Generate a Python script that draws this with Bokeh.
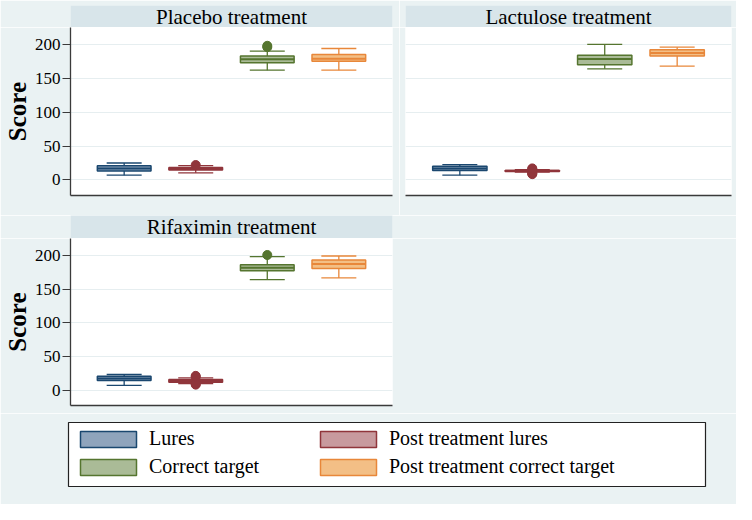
from bokeh.plotting import figure
from bokeh.models import (ColumnDataSource, Range1d, Legend, LegendItem,
                          Label, FixedTicker)
from bokeh.layouts import column, row
from bokeh.embed import file_html
from bokeh.resources import INLINE

# ---------------- data ----------------
groups = ["Lures", "Post treatment lures", "Correct target", "Post treatment correct target"]
panel_titles = ["Placebo treatment", "Lactulose treatment", "Rifaximin treatment"]
y_ticks = [0, 50, 100, 150, 200]

placebo_low = [7, 10.5, 162, 162]
placebo_q1 = [13, 14.5, 173, 175]
placebo_med = [17, 16, 178, 179]
placebo_q3 = [21, 18.5, 183, 185]
placebo_high = [25, 21, 190, 194]
placebo_out = [[], [22], [196, 198], []]

lactulose_low = [7, 11.5, 164, 168]
lactulose_q1 = [14, 12.5, 170, 183]
lactulose_med = [17, 13.4, 178.5, 187.5]
lactulose_q3 = [20, 14, 184, 192]
lactulose_high = [22.5, 15, 200, 196]
lactulose_out = [[], [8.5, 9.5, 10.5, 16, 17], [], []]

rifaximin_low = [7, 9.5, 164, 166.5]
rifaximin_q1 = [14, 11.5, 177, 180.5]
rifaximin_med = [17, 13.5, 181.5, 187]
rifaximin_q3 = [20.5, 15.5, 186, 193]
rifaximin_high = [23, 18, 198, 199]
rifaximin_out = [[], [8, 9, 19.5, 21], [200.5], []]

# ---------------- style ----------------
BG = "#eaf2f3"
STRIP = "#d8e5ea"
GRID = "#e6eef0"
AXIS = "#3a3a3a"
line_colors = ["#1a476f", "#90353b", "#55752f", "#e8873a"]
fill_colors = ["#8fa4bc", "#c89a9e", "#aabb97", "#f3bf86"]
FONT = "Liberation Serif"

LEFT = 67
FRAME_W = 325
positions = [i + 1 for i in range(len(groups))]


def make_strip(title, left, frame_w, right, top, frame_h):
    s = figure(width=left + frame_w + right, height=top + frame_h,
               x_range=Range1d(0, 1), y_range=Range1d(0, 1),
               output_backend="svg", toolbar_location=None,
               min_border_left=left, min_border_right=right, min_border_top=top,
               min_border_bottom=0)
    s.axis.visible = False
    s.grid.visible = False
    s.background_fill_color = STRIP
    s.border_fill_color = BG
    s.outline_line_color = None
    s.add_layout(Label(x=0.5, y=0.5, text=title, text_align="center",
                       text_baseline="middle", text_font=FONT,
                       text_font_size="21px", text_color="black"))
    return s


def make_panel(low, q1, med, q3, high, outs, show_y, left, frame_w, right,
               frame_h, bottom):
    p = figure(width=left + frame_w + right, height=frame_h + bottom,
               x_range=Range1d(0.25, len(groups) + 0.75),
               y_range=Range1d(-23, 225), output_backend="svg",
               toolbar_location=None,
               y_axis_location="left" if show_y else None,
               min_border_left=left, min_border_right=right, min_border_top=0,
               min_border_bottom=bottom)
    p.background_fill_color = "white"
    p.border_fill_color = BG
    p.outline_line_color = None
    p.xgrid.grid_line_color = None
    p.ygrid.grid_line_color = GRID
    p.ygrid.grid_line_width = 1.2
    p.ygrid.ticker = FixedTicker(ticks=y_ticks)

    xa = p.xaxis[0]
    xa.ticker = FixedTicker(ticks=[])
    xa.axis_line_color = AXIS
    xa.axis_line_width = 1.6
    xa.major_tick_line_color = None
    xa.minor_tick_line_color = None

    if show_y:
        ya = p.yaxis[0]
        ya.ticker = FixedTicker(ticks=y_ticks)
        ya.axis_line_color = AXIS
        ya.axis_line_width = 1.3
        ya.major_tick_line_color = AXIS
        ya.major_tick_out = 8
        ya.major_tick_in = 0
        ya.minor_tick_line_color = None
        ya.major_label_text_font = FONT
        ya.major_label_text_font_size = "17px"
        ya.major_label_text_color = "black"
        ya.major_label_standoff = 2
        ya.axis_label = "Score"
        ya.axis_label_text_font = FONT
        ya.axis_label_text_font_style = "bold"
        ya.axis_label_text_font_size = "25px"
        ya.axis_label_text_color = "black"
        ya.axis_label_standoff = 1

    src = ColumnDataSource(dict(x=positions, low=low, q1=q1, med=med, q3=q3,
                                high=high, line=line_colors, fill=fill_colors))
    p.segment(x0="x", y0="q3", x1="x", y1="high", line_color="line",
              line_width=1.3, source=src)
    p.segment(x0="x", y0="low", x1="x", y1="q1", line_color="line",
              line_width=1.3, source=src)
    p.scatter(x="x", y="high", marker="dash", size=35, line_color="line",
              line_width=1.3, source=src)
    p.scatter(x="x", y="low", marker="dash", size=35, line_color="line",
              line_width=1.3, source=src)
    p.vbar(x="x", width=0.75, bottom="q1", top="q3", fill_color="fill",
           line_color="line", line_width=1.5, source=src)
    p.scatter(x="x", y="med", marker="dash", size=54, line_color="line",
              line_width=2, source=src)

    ox, oy, oc = [], [], []
    for pos, vals, c in zip(positions, outs, line_colors):
        for v in vals:
            ox.append(pos)
            oy.append(v)
            oc.append(c)
    osrc = ColumnDataSource(dict(x=ox, y=oy, c=oc))
    p.scatter(x="x", y="y", size=9, fill_color="c", line_color="c", source=osrc)
    return p, src


strip1 = make_strip(panel_titles[0], LEFT, FRAME_W, 7, 5, 22)
p1, _ = make_panel(placebo_low, placebo_q1, placebo_med, placebo_q3, placebo_high,
                   placebo_out, True, LEFT, FRAME_W, 7, 168, 20)
strip2 = make_strip(panel_titles[1], 6, 326, 5, 5, 22)
p2, _ = make_panel(lactulose_low, lactulose_q1, lactulose_med, lactulose_q3,
                   lactulose_high, lactulose_out, False, 6, 326, 5, 168, 20)
strip3 = make_strip(panel_titles[2], LEFT, FRAME_W, 344, 0, 23)
p3, src3 = make_panel(rifaximin_low, rifaximin_q1, rifaximin_med, rifaximin_q3,
                      rifaximin_high, rifaximin_out, True, LEFT, FRAME_W, 344,
                      167, 8)

# ---------------- legend ----------------
lf = figure(width=736, height=91, x_range=Range1d(0.25, len(groups) + 0.75),
            y_range=Range1d(0, 1), output_backend="svg", toolbar_location=None,
            min_border_left=68, min_border_right=31, min_border_top=9,
            min_border_bottom=18)
lf.frame_align = False
lf.axis.visible = False
lf.grid.visible = False
lf.background_fill_color = "white"
lf.border_fill_color = BG
lf.outline_line_color = "#222222"
lf.outline_line_width = 1.2

key = lf.vbar(x="x", width=0.75, bottom="q1", top="q3", fill_color="fill",
              line_color="line", line_width=1.5, source=src3, visible=False)

order = [0, 2, 1, 3]  # legend fills column by column
items = [LegendItem(label=groups[i], renderers=[key], index=i) for i in order]

legend = Legend(items=items, location="top_left", ncols=2, glyph_width=70,
                glyph_height=20, label_standoff=6, label_width=159, spacing=5,
                padding=11, margin=5, border_line_color=None,
                background_fill_alpha=0, inactive_fill_alpha=0,
                label_text_font=FONT, label_text_font_size="20px",
                label_text_color="black")
lf.add_layout(legend)

layout = column(row(column(strip1, p1), column(strip2, p2)), strip3, p3, lf)

open("out.html", "w").write(file_html(layout, INLINE))
